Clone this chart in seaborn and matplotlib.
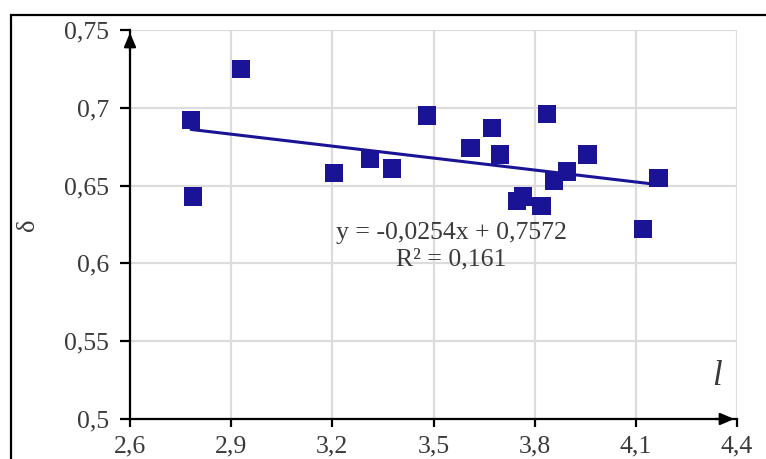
import numpy as np
import pandas as pd
import matplotlib
matplotlib.use("Agg")
import matplotlib.pyplot as plt
import seaborn as sns
from matplotlib.patches import Rectangle

l_values = [2.781, 2.787, 2.929, 3.205, 3.312, 3.377, 3.481, 3.610, 3.673, 3.698,
            3.748, 3.766, 3.820, 3.837, 3.858, 3.896, 3.957, 4.122, 4.167]
delta_values = [0.692, 0.643, 0.725, 0.658, 0.667, 0.661, 0.695, 0.674, 0.687, 0.670,
                0.640, 0.643, 0.637, 0.696, 0.653, 0.659, 0.670, 0.622, 0.655]
x_ticks = [2.6, 2.9, 3.2, 3.5, 3.8, 4.1, 4.4]
x_tick_labels = ["2,6", "2,9", "3,2", "3,5", "3,8", "4,1", "4,4"]
y_ticks = [0.5, 0.55, 0.6, 0.65, 0.7, 0.75]
y_tick_labels = ["0,5", "0,55", "0,6", "0,65", "0,7", "0,75"]
equation_text = "y = -0,0254x + 0,7572\nR² = 0,161"

sns.set_theme(style="white")
plt.rcParams['font.family'] = ['Liberation Serif', 'DejaVu Serif']

df = pd.DataFrame({"l": l_values, "delta": delta_values})
color = "#1b1396"
text_color = "#3a3a3a"

fig = plt.figure(figsize=(7.66, 4.59), dpi=100)
ax = fig.add_axes([130/766, 40/459, (737-130)/766, (419-30)/459])

ax.set_xlim(2.6, 4.4)
ax.set_ylim(0.5, 0.75)
ax.set_xticks(x_ticks)
ax.set_xticklabels(x_tick_labels)
ax.set_yticks(y_ticks)
ax.set_yticklabels(y_tick_labels)
ax.grid(True, color="#dcdcdc", linewidth=1.6)
ax.set_axisbelow(True)

sns.regplot(data=df, x="l", y="delta", ax=ax, ci=None, scatter=False, truncate=True,
            line_kws=dict(color=color, linewidth=2.2, zorder=3))
sns.scatterplot(data=df, x="l", y="delta", ax=ax, marker="s", s=175, color=color,
                edgecolor="none", zorder=4)

for s in ["top", "right"]:
    ax.spines[s].set_visible(False)
for s in ["left", "bottom"]:
    ax.spines[s].set_color("black")
    ax.spines[s].set_linewidth(1.6)
    ax.spines[s].set_zorder(5)

ax.tick_params(axis="both", which="both", direction="out", colors="black",
               labelcolor=text_color, labelsize=18.5, width=1.6)
ax.tick_params(axis="y", length=7, pad=8, left=True)
ax.tick_params(axis="x", length=6, pad=6, bottom=True)

ax.set_xlabel("")
ax.set_ylabel("δ", fontsize=19, color=text_color)
ax.yaxis.set_label_coords(-0.15, 0.5)

# arrows
ax.annotate("", xy=(1.0, 0), xytext=(0.96, 0), xycoords="axes fraction",
            arrowprops=dict(arrowstyle="-|>,head_length=0.7,head_width=0.3", color="black", lw=1.6),
            annotation_clip=False, zorder=6)
ax.annotate("", xy=(0, 1.0), xytext=(0, 0.94), xycoords="axes fraction",
            arrowprops=dict(arrowstyle="-|>,head_length=0.7,head_width=0.3", color="black", lw=1.6),
            annotation_clip=False, zorder=6)

ax.text(3.553, 0.6265, equation_text, ha="center", va="top", fontsize=18.5,
        color=text_color, linespacing=1.25)
ax.text(4.34, 0.527, "l", fontsize=25, style="italic", color=text_color, ha="center", va="center")

fig.patches.append(Rectangle((11/766, -0.2), 1.2, (459-15)/459 + 0.2, transform=fig.transFigure,
                             fill=False, edgecolor="black", linewidth=1.6))

fig.savefig("out.png", dpi=100)
